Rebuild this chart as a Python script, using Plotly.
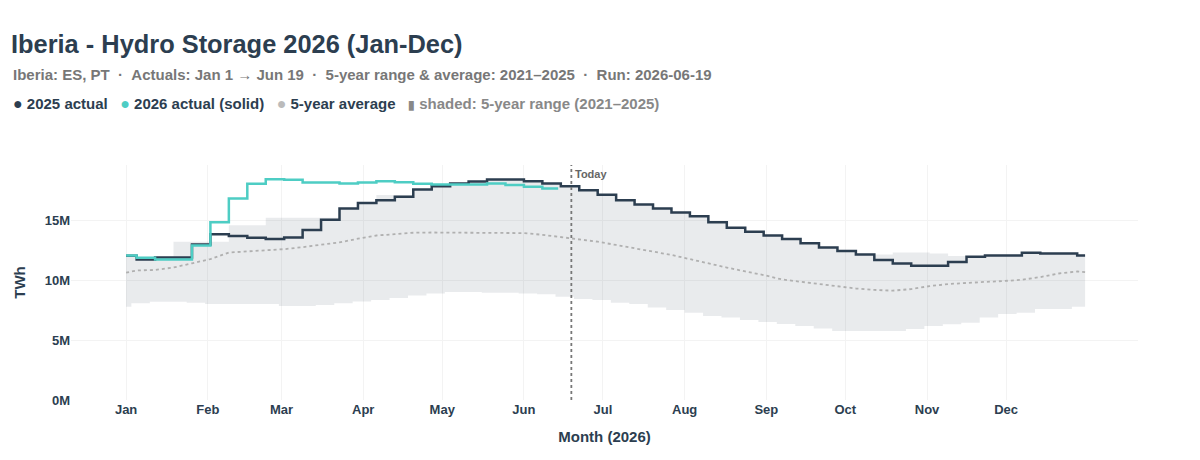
import pandas as pd
import plotly.graph_objects as go

# ---------------- data (values in millions, shown as "M") ----------------
# weekly grid (Mondays) with first day and last observation
week_dates = (["2026-01-01"]
              + [d.strftime("%Y-%m-%d") for d in pd.date_range("2026-01-05", "2026-12-28", freq="7D")]
              + ["2026-12-31"])

actual_2025 = [12.03, 11.72, 11.89, 11.89, 12.97, 13.83, 13.67, 13.53, 13.42, 13.56,
               14.17, 15.03, 15.97, 16.44, 16.67, 16.95, 17.56, 17.83, 18.06, 18.22,
               18.39, 18.39, 18.25, 18.06, 17.83, 17.50, 17.11, 16.67, 16.31, 15.97,
               15.64, 15.33, 14.83, 14.36, 14.03, 13.72, 13.42, 13.08, 12.72, 12.42,
               12.14, 11.67, 11.39, 11.19, 11.19, 11.50, 11.94, 12.06, 12.06, 12.28,
               12.22, 12.22, 12.05, 12.05]

avg_5y = [10.62, 10.80, 10.85, 11.05, 11.40, 11.75, 12.30, 12.38, 12.45, 12.58,
          12.75, 12.95, 13.15, 13.45, 13.72, 13.83, 13.95, 13.97, 13.97, 13.97,
          13.97, 13.97, 13.92, 13.78, 13.58, 13.38, 13.20, 12.93, 12.65, 12.37,
          12.10, 11.75, 11.37, 11.05, 10.72, 10.42, 10.05, 9.85, 9.65, 9.45,
          9.30, 9.18, 9.12, 9.25, 9.50, 9.67, 9.78, 9.85, 9.92, 10.03,
          10.25, 10.55, 10.72, 10.67]

range_max = [12.08, 11.95, 11.95, 13.19, 13.19, 13.19, 14.58, 14.58, 15.19, 15.19,
             15.19, 15.19, 15.97, 16.44, 17.10, 17.10, 17.56, 17.83, 18.06, 18.22,
             18.39, 18.39, 18.25, 18.06, 17.83, 17.50, 17.11, 16.67, 16.31, 15.97,
             15.64, 15.33, 14.83, 14.36, 14.03, 13.72, 13.42, 13.08, 12.72, 12.42,
             12.14, 12.14, 12.30, 12.30, 12.22, 12.00, 11.94, 12.06, 12.06, 12.28,
             12.22, 12.22, 12.05, 12.05]

# lower edge of range on its own weekly grid (Saturdays)
low_dates = (["2026-01-01"]
             + [d.strftime("%Y-%m-%d") for d in pd.date_range("2026-01-03", "2026-12-26", freq="7D")]
             + ["2026-12-31"])
range_min = [7.78, 8.06, 8.19, 8.19, 8.11, 8.00, 8.00, 8.00, 8.00, 7.83,
             7.83, 7.92, 8.06, 8.22, 8.33, 8.50, 8.72, 8.89, 9.00, 9.00,
             8.94, 8.94, 8.89, 8.81, 8.61, 8.42, 8.33, 8.11, 8.00, 7.72,
             7.50, 7.28, 7.00, 6.89, 6.67, 6.50, 6.33, 6.17, 5.97, 5.75,
             5.75, 5.75, 5.75, 5.92, 6.17, 6.31, 6.44, 6.89, 7.17, 7.28,
             7.58, 7.58, 7.78, 7.78]

dates_2026 = (["2026-01-01"]
              + [d.strftime("%Y-%m-%d") for d in pd.date_range("2026-01-05", "2026-06-08", freq="7D")]
              + ["2026-06-14"])
actual_2026 = [12.05, 11.86, 11.72, 11.72, 12.89, 14.83, 16.81, 18.03, 18.42, 18.36,
               18.14, 18.14, 18.06, 18.14, 18.25, 18.17, 18.03, 17.97, 17.97, 17.97,
               18.06, 17.94, 17.78, 17.64, 17.64]

month_ticks = [f"2026-{m:02d}-01" for m in range(1, 13)]
month_labels = ["Jan", "Feb", "Mar", "Apr", "May", "Jun", "Jul", "Aug", "Sep", "Oct", "Nov", "Dec"]
y_ticks = [0, 5e6, 10e6, 15e6]
y_labels = ["0M", "5M", "10M", "15M"]
today = "2026-06-19"

M = 1e6
def scale(v):
    return [x * M for x in v]

DARK = "#2c3e50"
TEAL = "#4ecdc4"
AVG = "#b0b0b0"
FONT = "Liberation Sans, Arial, sans-serif"

fig = go.Figure()
fig.add_trace(go.Scatter(x=low_dates, y=scale(range_min), mode="lines", line=dict(width=0, shape="hv"),
                         hoverinfo="skip", showlegend=False))
fig.add_trace(go.Scatter(x=week_dates, y=scale(range_max), mode="lines", line=dict(width=0, shape="hv"),
                         fill="tonexty", fillcolor="rgba(44,62,80,0.10)", hoverinfo="skip", showlegend=False))
fig.add_trace(go.Scatter(x=week_dates, y=scale(avg_5y), mode="lines",
                         line=dict(color=AVG, width=1.8, dash="dot"), showlegend=False))
fig.add_trace(go.Scatter(x=week_dates, y=scale(actual_2025), mode="lines",
                         line=dict(color=DARK, width=2.5, shape="hv"), showlegend=False))
fig.add_trace(go.Scatter(x=dates_2026, y=scale(actual_2026), mode="lines",
                         line=dict(color=TEAL, width=2.5, shape="hv"), showlegend=False))

L, R, T, B = 71, 62, 165, 60
W, H = 1200, 460
pw, ph = W - L - R, H - T - B
def px_x(p):
    return (p - L) / pw
def px_y(p):
    return (H - B - p) / ph

fig.add_shape(type="line", x0=today, x1=today, y0=0, y1=1, yref="paper",
              line=dict(color="#777777", width=1.8, dash="dot"))
fig.add_annotation(x=today, y=px_y(174), yref="paper", text="Today", showarrow=False,
                   xanchor="left", yanchor="middle", xshift=2,
                   font=dict(family=FONT, size=11, color="#666666", weight="bold"))

SEP = "&nbsp;&nbsp;·&nbsp;&nbsp;"
fig.add_annotation(x=px_x(11), y=px_y(74), xref="paper", yref="paper", xanchor="left", yanchor="middle",
                   showarrow=False,
                   text=f"Iberia: ES, PT{SEP}Actuals: Jan 1 → Jun 19{SEP}5-year range &amp; average: 2021–2025{SEP}Run: 2026-06-19",
                   font=dict(family=FONT, size=15, color="#777777", weight="bold"))
DOT = "<span style='font-size:16px;color:{c}'>●</span>"
GAP = "&nbsp;&nbsp;&nbsp;"
legend_text = (DOT.format(c=DARK) + " 2025 actual" + GAP
               + DOT.format(c=TEAL) + " 2026 actual (solid)" + GAP
               + DOT.format(c="#bbbbbb") + " 5-year average" + GAP
               + "<span style='color:#888888'><span style='font-size:12px'>▮</span> shaded: 5-year range (2021–2025)</span>")
fig.add_annotation(x=px_x(11), y=px_y(103), xref="paper", yref="paper", xanchor="left", yanchor="middle",
                   showarrow=False, text=legend_text,
                   font=dict(family=FONT, size=15, color=DARK, weight="bold"))

fig.update_layout(
    width=W, height=H,
    margin=dict(l=L, r=R, t=T, b=B),
    paper_bgcolor="white", plot_bgcolor="white",
    title=dict(text="Iberia - Hydro Storage 2026 (Jan-Dec)", x=11 / W, xref="container", xanchor="left",
               y=1 - 44 / H, yref="container", yanchor="middle",
               font=dict(family=FONT, size=25.4, color=DARK, weight="bold")),
    font=dict(family=FONT, color=DARK),
    showlegend=False,
)
fig.update_xaxes(range=["2025-12-11 02:00", "2027-01-20 02:00"], tickvals=month_ticks, ticktext=month_labels,
                 showgrid=True, gridcolor="#f3f3f3", zeroline=False, showline=False,
                 tickfont=dict(family=FONT, size=13, color=DARK, weight="bold"),
                 title=dict(text="Month (2026)", font=dict(family=FONT, size=15, color=DARK, weight="bold")))
fig.update_yaxes(range=[0, 19.6e6], tickvals=y_ticks, ticktext=y_labels,
                 showgrid=True, gridcolor="#f3f3f3", zeroline=False, showline=False,
                 tickfont=dict(family=FONT, size=13, color=DARK, weight="bold"),
                 title=dict(text="TWh", font=dict(family=FONT, size=15, color=DARK, weight="bold")))

fig.write_html("out.html")
